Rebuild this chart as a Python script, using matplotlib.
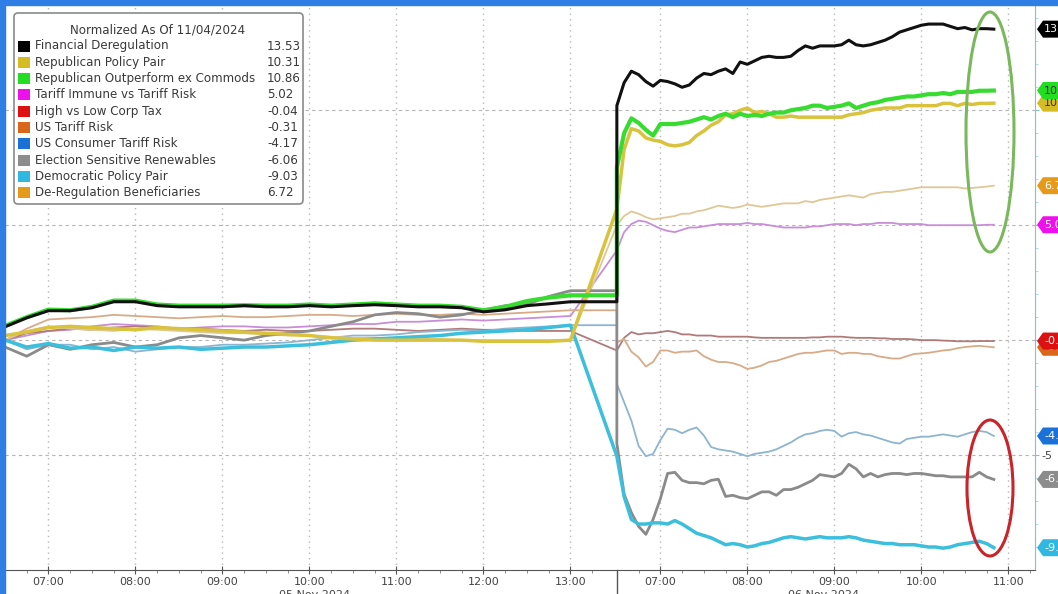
import numpy as np
import pandas as pd
import matplotlib
matplotlib.use('Agg')
import matplotlib.pyplot as plt
from matplotlib.patches import Ellipse, FancyBboxPatch, Rectangle, Polygon
from matplotlib.lines import Line2D

W, H = 1058, 594

# time grids: day 1 every 15 min, day 2 every 5 min
day1_times = pd.date_range('2024-11-05 06:30', '2024-11-05 13:00', freq='15min')
day2_times = pd.date_range('2024-11-06 06:30', '2024-11-06 10:50', freq='5min')
day1_close = 13 + 32 / 60  # session break, day 2 06:30 sits here

# ---- data (day 1 values, day 1 close level or nan, day 2 values) ----
fin_dereg_d1 = [0.58, 0.97, 1.28, 1.28, 1.41, 1.67, 1.67, 1.5, 1.45, 1.45, 1.45, 1.5, 1.45, 1.45,
                1.5, 1.45, 1.5, 1.54, 1.5, 1.45, 1.45, 1.41, 1.23, 1.32, 1.5, 1.58, 1.67]
fin_dereg_close = 1.67
fin_dereg_d2 = [10.2, 11.2, 11.7, 11.55, 11.25, 11.05,
                11.3, 11.25, 11.15, 11.0, 11.1, 11.4, 11.6, 11.55, 11.7, 11.8, 11.6, 12.1,
                12.0, 12.15, 12.3, 12.35, 12.3, 12.3, 12.35, 12.6, 12.8, 12.7, 12.8, 12.8,
                12.8, 12.85, 13.05, 12.85, 12.8, 12.85, 12.95, 13.05, 13.2, 13.4, 13.5, 13.6,
                13.7, 13.75, 13.75, 13.75, 13.65, 13.55, 13.6, 13.5, 13.55, 13.55, 13.53]

rep_pair_d1 = [0.2, 0.35, 0.55, 0.6, 0.55, 0.5, 0.45, 0.55, 0.5, 0.45, 0.4, 0.35, 0.3, 0.25,
               0.2, 0.1, 0.05, 0.0, 0.0, 0.0, 0.0, 0.0, -0.05, -0.05, -0.05, -0.05, 0.0]
rep_pair_close = np.nan
rep_pair_d2 = [5.7, 8.3, 9.2, 9.1, 8.8, 8.7,
               8.65, 8.5, 8.45, 8.5, 8.6, 8.9, 9.1, 9.35, 9.5, 9.8, 9.85, 10.0,
               10.1, 9.9, 9.95, 9.85, 9.7, 9.7, 9.75, 9.7, 9.7, 9.7, 9.7, 9.7,
               9.7, 9.7, 9.8, 9.85, 9.9, 10.0, 10.05, 10.1, 10.1, 10.1, 10.2, 10.2,
               10.2, 10.2, 10.2, 10.3, 10.3, 10.2, 10.3, 10.25, 10.3, 10.3, 10.31]

rep_outp_d1 = [0.62, 1.0, 1.33, 1.3, 1.45, 1.72, 1.72, 1.55, 1.5, 1.5, 1.5, 1.52, 1.5, 1.5,
               1.55, 1.5, 1.55, 1.6, 1.55, 1.5, 1.5, 1.45, 1.3, 1.45, 1.7, 1.85, 1.95]
rep_outp_close = 1.95
rep_outp_d2 = [7.5, 9.0, 9.65, 9.45, 9.15, 8.9,
               9.4, 9.4, 9.4, 9.45, 9.5, 9.6, 9.7, 9.6, 9.75, 9.85, 9.7, 9.85,
               9.75, 9.8, 9.75, 9.85, 9.9, 9.9, 10.0, 10.05, 10.1, 10.2, 10.2, 10.1,
               10.15, 10.2, 10.3, 10.1, 10.2, 10.3, 10.35, 10.45, 10.5, 10.55, 10.6, 10.6,
               10.65, 10.7, 10.7, 10.75, 10.7, 10.8, 10.8, 10.8, 10.85, 10.85, 10.86]

tariff_imm_d1 = [0.0, 0.2, 0.4, 0.45, 0.6, 0.7, 0.65, 0.6, 0.5, 0.55, 0.6, 0.6, 0.55, 0.55,
                 0.6, 0.65, 0.7, 0.7, 0.8, 0.8, 0.85, 0.9, 0.85, 0.9, 0.95, 1.0, 1.05]
tariff_imm_close = np.nan
tariff_imm_d2 = [3.9, 4.7, 5.05, 5.2, 5.15, 5.0,
                 4.85, 4.75, 4.7, 4.8, 4.9, 4.9, 4.95, 5.0, 5.05, 5.05, 5.05, 5.05,
                 5.1, 5.05, 5.05, 5.0, 4.95, 4.9, 4.9, 4.9, 4.9, 4.95, 4.95, 5.0,
                 5.05, 5.05, 5.05, 5.0, 5.05, 5.05, 5.1, 5.1, 5.1, 5.05, 5.05, 5.05,
                 5.05, 5.0, 5.0, 5.0, 5.0, 5.0, 5.0, 5.0, 5.0, 5.02, 5.02]

corp_tax_d1 = [0.0, 0.3, 0.4, 0.5, 0.45, 0.55, 0.6, 0.55, 0.5, 0.5, 0.45, 0.4, 0.45, 0.4,
               0.4, 0.45, 0.5, 0.5, 0.45, 0.4, 0.45, 0.5, 0.45, 0.45, 0.4, 0.4, 0.4]
corp_tax_close = np.nan
corp_tax_d2 = [-0.45, 0.1, 0.35, 0.25, 0.3, 0.3,
               0.35, 0.4, 0.35, 0.25, 0.25, 0.2, 0.2, 0.2, 0.15, 0.15, 0.15, 0.15,
               0.15, 0.12, 0.1, 0.1, 0.1, 0.1, 0.1, 0.1, 0.1, 0.12, 0.12, 0.15,
               0.15, 0.15, 0.12, 0.1, 0.1, 0.1, 0.08, 0.08, 0.05, 0.05, 0.05, 0.03,
               0.0, 0.0, 0.0, -0.02, -0.03, -0.05, -0.05, -0.05, -0.04, -0.04, -0.04]

us_tariff_d1 = [0.0, 0.5, 0.9, 0.95, 1.0, 1.1, 1.05, 1.0, 0.95, 1.0, 1.05, 1.0, 1.0, 1.05,
                1.1, 1.1, 1.05, 1.1, 1.15, 1.1, 1.1, 1.15, 1.1, 1.15, 1.2, 1.25, 1.3]
us_tariff_close = 1.3
us_tariff_d2 = [-0.1, 0.05, -0.5, -0.75, -1.15, -0.95,
                -0.45, -0.45, -0.55, -0.5, -0.5, -0.45, -0.7, -0.85, -0.95, -0.95, -1.0, -1.1,
                -1.25, -1.2, -1.1, -0.95, -0.9, -0.8, -0.7, -0.6, -0.55, -0.55, -0.5, -0.45,
                -0.45, -0.6, -0.55, -0.55, -0.6, -0.6, -0.7, -0.75, -0.8, -0.8, -0.7, -0.6,
                -0.58, -0.55, -0.5, -0.45, -0.42, -0.35, -0.3, -0.27, -0.25, -0.28, -0.31]

consumer_d1 = [0.0, -0.4, -0.2, -0.2, -0.4, -0.3, -0.5, -0.4, -0.3, -0.3, -0.2, -0.2, -0.15, -0.1,
               0.0, 0.1, 0.2, 0.2, 0.25, 0.35, 0.4, 0.45, 0.4, 0.5, 0.55, 0.6, 0.65]
consumer_close = 0.65
consumer_d2 = [-1.9, -2.7, -3.5, -4.6, -5.05, -4.95,
               -4.35, -3.85, -3.9, -4.05, -3.9, -3.8, -4.15, -4.65, -4.75, -4.8, -4.85, -4.95,
               -5.05, -4.95, -4.9, -4.85, -4.75, -4.6, -4.45, -4.25, -4.1, -4.05, -3.95, -3.9,
               -3.95, -4.2, -4.05, -4.0, -4.1, -4.15, -4.25, -4.35, -4.45, -4.5, -4.3, -4.25,
               -4.2, -4.2, -4.15, -4.1, -4.15, -4.2, -4.1, -4.0, -3.95, -4.0, -4.17]

renew_d1 = [-0.3, -0.7, -0.2, -0.4, -0.2, -0.1, -0.3, -0.2, 0.1, 0.2, 0.1, 0.0, 0.2, 0.3,
            0.4, 0.6, 0.8, 1.1, 1.2, 1.15, 1.0, 1.1, 1.3, 1.5, 1.55, 1.9, 2.15]
renew_close = 2.15
renew_d2 = [-4.5, -6.7, -7.5, -8.1, -8.45, -7.8,
            -6.9, -5.8, -5.75, -6.1, -6.2, -6.2, -6.25, -6.1, -6.05, -6.8, -6.75, -6.85,
            -6.9, -6.75, -6.6, -6.6, -6.75, -6.5, -6.5, -6.4, -6.25, -6.1, -5.85, -5.9,
            -5.95, -5.8, -5.4, -5.6, -5.95, -5.8, -5.95, -5.85, -5.8, -5.8, -5.85, -5.8,
            -5.8, -5.85, -5.9, -5.9, -5.95, -5.95, -5.95, -5.95, -5.75, -5.95, -6.06]

dem_pair_d1 = [0.0, -0.3, -0.15, -0.35, -0.3, -0.45, -0.3, -0.35, -0.3, -0.4, -0.35, -0.3, -0.3, -0.25,
               -0.2, -0.1, 0.0, 0.05, 0.1, 0.15, 0.2, 0.3, 0.35, 0.4, 0.45, 0.55, 0.65]
dem_pair_close = np.nan
dem_pair_d2 = [-5.05, -6.8, -7.8, -8.0, -8.0, -7.95,
               -7.95, -8.0, -7.85, -8.0, -8.2, -8.4, -8.5, -8.6, -8.75, -8.9, -8.85, -8.9,
               -9.0, -8.95, -8.85, -8.8, -8.7, -8.6, -8.55, -8.6, -8.65, -8.6, -8.55, -8.6,
               -8.6, -8.6, -8.55, -8.6, -8.7, -8.75, -8.8, -8.85, -8.85, -8.9, -8.9, -8.9,
               -8.95, -9.0, -9.0, -9.05, -9.0, -8.9, -8.85, -8.8, -8.75, -8.85, -9.03]

dereg_benef_d1 = [0.0, 0.4, 0.6, 0.5, 0.45, 0.4, 0.5, 0.45, 0.4, 0.35, 0.3, 0.3, 0.25, 0.2,
                  0.2, 0.15, 0.1, 0.1, 0.05, 0.05, 0.05, 0.0, 0.0, 0.0, 0.0, 0.0, 0.0]
dereg_benef_close = np.nan
dereg_benef_d2 = [5.0, 5.4, 5.6, 5.5, 5.35, 5.25,
                  5.3, 5.35, 5.4, 5.5, 5.5, 5.6, 5.65, 5.75, 5.85, 5.8, 5.75, 5.8,
                  5.9, 5.85, 5.8, 5.85, 5.9, 5.95, 5.95, 5.95, 6.05, 6.0, 6.1, 6.15,
                  6.2, 6.25, 6.3, 6.25, 6.2, 6.35, 6.4, 6.45, 6.45, 6.5, 6.55, 6.6,
                  6.65, 6.65, 6.65, 6.65, 6.65, 6.65, 6.6, 6.62, 6.65, 6.68, 6.72]

# name, legend colour, line colour, width, data  (legend order)
series = [
    ('Financial Deregulation', '#000000', '#111111', 2.2, fin_dereg_d1, fin_dereg_close, fin_dereg_d2),
    ('Republican Policy Pair', '#d4bc22', '#d9c23c', 2.5, rep_pair_d1, rep_pair_close, rep_pair_d2),
    ('Republican Outperform ex Commods', '#22dd22', '#38dc30', 3.0, rep_outp_d1, rep_outp_close, rep_outp_d2),
    ('Tariff Immune vs Tariff Risk', '#ee11ee', '#c88ed8', 1.3, tariff_imm_d1, tariff_imm_close, tariff_imm_d2),
    ('High vs Low Corp Tax', '#dd1111', '#b07a7a', 1.3, corp_tax_d1, corp_tax_close, corp_tax_d2),
    ('US Tariff Risk', '#d9661a', '#d8ab88', 1.3, us_tariff_d1, us_tariff_close, us_tariff_d2),
    ('US Consumer Tariff Risk', '#1a72d8', '#8db5d0', 1.3, consumer_d1, consumer_close, consumer_d2),
    ('Election Sensitive Renewables', '#8c8c8c', '#8a8a8a', 2.0, renew_d1, renew_close, renew_d2),
    ('Democratic Policy Pair', '#30b8e0', '#3bbfdd', 2.5, dem_pair_d1, dem_pair_close, dem_pair_d2),
    ('De-Regulation Beneficiaries', '#e69a1a', '#e0c896', 1.3, dereg_benef_d1, dereg_benef_close, dereg_benef_d2),
]
draw_order = [3, 4, 5, 6, 9, 7, 8, 1, 2, 0]
tag_order = [5, 1, 0, 2, 3, 4, 6, 7, 8, 9]


def hours(t):
    return t.hour + t.minute / 60


x1 = np.array([hours(t) - 6.5 for t in day1_times])
xc = day1_close - 6.5
x2 = np.array([hours(t) - 6.5 + xc for t in day2_times])
xall = np.concatenate([x1, [xc], x2])

fig = plt.figure(figsize=(W / 100, H / 100), dpi=100)
ax = fig.add_axes([5 / W, 1 - 570 / H, 1030 / W, 565 / H])
ax.set_xlim(0, 11.84)
ax.set_ylim(-10, 14.58)

for i in draw_order:
    name, lcol, col, lw, d1, close, d2 = series[i]
    y = np.concatenate([d1, [close], d2])
    m = ~np.isnan(y)
    ax.plot(xall[m], y[m], color=col, lw=lw, solid_joinstyle='round', zorder=3)

# grid
day1_hours = [7, 8, 9, 10, 11, 12, 13]
day2_hours = [7, 8, 9, 10, 11]
xt = [h - 6.5 for h in day1_hours] + [h - 6.5 + xc for h in day2_hours]
xl = ['%02d:00' % h for h in day1_hours] + ['%02d:00' % h for h in day2_hours]
for p in xt:
    ax.axvline(p, color='#b8b8b8', lw=1.0, ls=(0, (1, 3)), zorder=1)
for v in [-5, 0, 5, 10]:
    ax.axhline(v, color='#b5b5b5', lw=0.8, ls=(0, (3, 3)), zorder=1)

ax.set_xticks(xt)
ax.set_xticklabels(xl)
minor = [h - 6.5 for h in np.arange(6.75, 13.5, 0.25)] + [h - 6.5 + xc for h in np.arange(6.75, 11.3, 0.25)]
ax.set_xticks(minor, minor=True)
ax.tick_params(axis='x', which='major', labelsize=8, labelcolor='#444444', color='#555555',
               direction='inout', length=6, pad=2)
ax.tick_params(axis='x', which='minor', color='#777777', direction='out', length=2)

# right axis: only the -5 label is not hidden behind the value tags
ax.yaxis.tick_right()
ax.set_yticks([-5, 0, 5, 10])
ax.set_yticklabels(['-5', '', '', ''])
ax.set_yticks(np.arange(-9, 15, 1), minor=True)
ax.tick_params(axis='y', which='major', labelsize=8, labelcolor='#444444', color='#7fc4cc', length=3, pad=2)
ax.tick_params(axis='y', which='minor', color='#a8d6dc', length=2)

ax.spines['left'].set_visible(False)
ax.spines['top'].set_visible(False)
ax.spines['right'].set_color('#7fc4cc')
ax.spines['bottom'].set_color('#555555')

# right hand value tags
fig.canvas.draw()
for k, i in enumerate(tag_order):
    name, lcol, col, lw, d1, close, d2 = series[i]
    last = d2[-1]
    yp = H - ax.transData.transform((0, last))[1]
    xp = 1037
    shape = [(xp, 0), (xp + 6, -8.5), (xp + 40, -8.5), (xp + 40, 8.5), (xp + 6, 8.5)]
    fig.add_artist(Polygon([(a / W, 1 - (yp + b) / H) for a, b in shape], closed=True,
                           transform=fig.transFigure, facecolor=lcol, edgecolor='none',
                           zorder=10 + 2 * k))
    tcol = '#333333' if lcol in ('#22dd22', '#d4bc22') else 'white'
    fig.text((xp + 7) / W, 1 - yp / H, '%.2f' % last, fontsize=8, color=tcol,
             va='center', ha='left', zorder=11 + 2 * k)

# overlay in pixel coordinates
ov = fig.add_axes([0, 0, 1, 1])
ov.set_xlim(0, W)
ov.set_ylim(H, 0)
ov.axis('off')
ov.patch.set_alpha(0)

blue = '#2f7ee6'
ov.add_patch(Rectangle((0, 0), W, 5, color=blue, zorder=20))
ov.add_patch(Rectangle((0, 0), 5, H, color=blue, zorder=20))
ov.add_line(Line2D([617, 617], [570, 594], color='#555555', lw=1))

ov.text(315, 590, '05 Nov 2024', ha='center', va='top', fontsize=8, color='#444444')
ov.text(824, 590, '06 Nov 2024', ha='center', va='top', fontsize=8, color='#444444')

# legend box
ov.add_patch(FancyBboxPatch((14, 13), 289, 191, boxstyle='round,pad=0,rounding_size=4',
                            facecolor='white', edgecolor='#8a8a8a', lw=1.2, zorder=6))
ov.text(158, 30, 'Normalized As Of 11/04/2024', ha='center', va='center', fontsize=8.6,
        color='#3a3a3a', zorder=7)
for i, (name, lcol, col, lw, d1, close, d2) in enumerate(series):
    yy = 46 + i * 16.3
    ov.add_patch(Rectangle((18, yy - 5.5), 12, 11, facecolor=lcol, edgecolor='none', zorder=7))
    ov.text(35, yy, name, ha='left', va='center', fontsize=8.6, color='#3a3a3a', zorder=7)
    ov.text(267, yy, '%.2f' % d2[-1], ha='left', va='center', fontsize=8.6, color='#3a3a3a', zorder=7)

# hand drawn highlight ellipses
ov.add_patch(Ellipse((990, 132), 48, 240, fill=False, edgecolor='#7ab85c', lw=2.2, zorder=8))
ov.add_patch(Ellipse((990, 488), 46, 136, fill=False, edgecolor='#c8242a', lw=2.2, zorder=8))

fig.savefig('out.png', dpi=100)
